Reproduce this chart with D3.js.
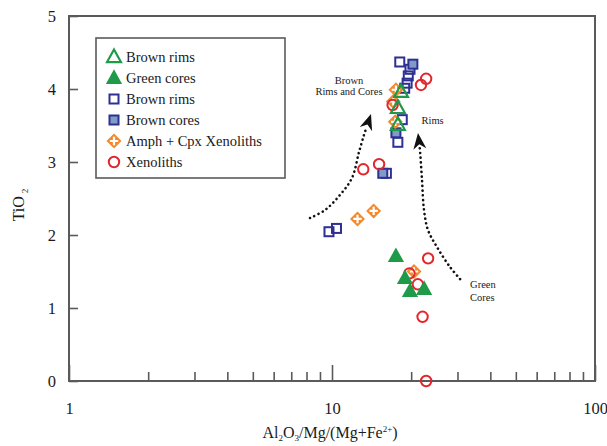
<!DOCTYPE html>
<html><head><meta charset="utf-8">
<script src="https://cdn.jsdelivr.net/npm/d3@7"></script>
<style>body{margin:0;background:#fff}svg{display:block}text{font-family:"Liberation Serif","Times New Roman",serif;fill:#1a1a1a}</style>
</head><body><svg id="c" width="607" height="446"></svg>
<script>
// ---- data ----
const brownRimsTri = [[18.3,3.96],[17.8,3.74],[17.8,3.51]];
const greenCoresTri = [[17.5,1.71],[18.95,1.41],[19.8,1.23],[22.4,1.26]];
const brownRimsSq = [[18.1,4.37],[19.8,4.27],[19.5,4.18],[19.3,4.08],[18.9,4.01],[18.5,3.58],[17.8,3.27],[16.1,2.845],[9.74,2.045],[10.4,2.09]];
const brownCoresSq = [[20.3,4.34],[17.5,3.40],[15.6,2.845]];
const amphCpx = [[12.5,2.22],[14.4,2.33],[17.1,3.83],[17.4,3.55],[17.5,3.99],[20.5,1.50]];
const xenoliths = [[22.8,4.14],[21.8,4.055],[17.0,3.78],[13.15,2.90],[15.1,2.97],[23.2,1.68],[19.7,1.475],[21.2,1.325],[22.1,0.88],[22.8,0.0]];
const yTicks = [0,1,2,3,4,5];
const xLabels = [1,10,100];
const legendLabels = ["Brown rims","Green cores","Brown rims","Brown cores","Amph + Cpx Xenoliths","Xenoliths"];
const arrowLeft = [[8.25,2.233],[9.41,2.342],[10.72,2.548],[11.91,2.781],[12.67,3.137],[13.23,3.37],[14.07,3.658]];
const arrowRight = [[30.7,1.397],[28.1,1.562],[25.07,1.836],[23.17,2.068],[22.38,2.342],[21.99,2.753],[21.6,3.164],[21.23,3.397]];

const C = {green:"#1f9a48", navy:"#2e3092", fillBlue:"#7f9cc6", orange:"#f3892a", red:"#e2262b", axis:"#5a5a5a"};

const svg = d3.select("#c");
const x = d3.scaleLog().domain([1,100]).range([69,595]);
const y = d3.scaleLinear().domain([0,5]).range([381,16]);

// minor tick values
const xTickVals = [];
for (let d of [1,10]) for (let k=1;k<=9;k++) xTickVals.push(d*k);
xTickVals.push(100);

const gx = svg.append("g").attr("transform","translate(0,381)")
  .call(d3.axisBottom(x).tickValues(xTickVals).tickSizeInner(-9).tickSizeOuter(0).tickPadding(21)
    .tickFormat(d => xLabels.includes(d) ? String(d) : ""));
gx.select(".domain").remove();
gx.selectAll(".tick line").attr("stroke",C.axis).attr("stroke-width",1.6)
  .attr("y2", d => xLabels.includes(d) ? -16 : -9);
gx.selectAll(".tick text").attr("font-size",16.5).attr("fill","#1a1a1a").style("font-family",'"Liberation Serif",serif');

const gy = svg.append("g").attr("transform","translate(69,0)")
  .call(d3.axisLeft(y).tickValues(yTicks).tickSizeInner(-9).tickSizeOuter(0).tickPadding(13).tickFormat(d3.format("d")));
gy.select(".domain").remove();
gy.selectAll(".tick line").attr("stroke",C.axis).attr("stroke-width",1.6);
gy.selectAll(".tick text").attr("font-size",16.5).attr("fill","#1a1a1a").style("font-family",'"Liberation Serif",serif');

// frame
svg.append("rect").attr("x",x(1)).attr("y",y(5)).attr("width",x(100)-x(1)).attr("height",y(0)-y(5))
  .attr("fill","none").attr("stroke",C.axis).attr("stroke-width",2);

// axis titles
const yt = svg.append("text").attr("transform","translate(24,205) rotate(-90)").attr("text-anchor","middle").attr("font-size",16);
yt.append("tspan").text("TiO");
yt.append("tspan").attr("dx",3).attr("dy",4).attr("font-size",9).text("2");

const xt = svg.append("text").attr("x",330).attr("y",438).attr("text-anchor","middle").attr("font-size",16);
xt.append("tspan").text("Al");
xt.append("tspan").attr("dy",3).attr("font-size",9).text("2");
xt.append("tspan").attr("dy",-3).text("O");
xt.append("tspan").attr("dy",3).attr("font-size",9).text("3");
xt.append("tspan").attr("dy",-3).text("/Mg/(Mg+Fe");
xt.append("tspan").attr("dy",-6).attr("font-size",9).text("2+");
xt.append("tspan").attr("dy",6).text(")");

// arrows
function drawArrow(pts){
  const p = pts.map(d => [x(d[0]), y(d[1])]);
  const tip = p[p.length-1], prev = p[p.length-2];
  const ang = Math.atan2(tip[1]-prev[1], tip[0]-prev[0]);
  const L = 16, W = 6.5;
  const base = [tip[0]-Math.cos(ang)*L*0.85, tip[1]-Math.sin(ang)*L*0.85];
  const line = p.slice(0,-1).concat([base]);
  svg.append("path").attr("d", d3.line().curve(d3.curveCatmullRom)(line))
    .attr("fill","none").attr("stroke","#111").attr("stroke-width",2.6)
    .attr("stroke-dasharray","0.1,4.6").attr("stroke-linecap","round");
  const ca = Math.cos(ang), sa = Math.sin(ang);
  const bx = tip[0]-ca*L, by = tip[1]-sa*L;
  const nx = tip[0]-ca*L*0.7, ny = tip[1]-sa*L*0.7;
  svg.append("path").attr("d", `M${tip[0]},${tip[1]} L${bx - sa*W},${by + ca*W} L${nx},${ny} L${bx + sa*W},${by - ca*W} Z`).attr("fill","#111");
}
drawArrow(arrowLeft);
drawArrow(arrowRight);

// annotation labels
const ann = svg.append("g").attr("font-size",10.5);
ann.append("text").attr("x",x(11.6)).attr("y",y(4.07)).attr("text-anchor","middle").text("Brown");
ann.append("text").attr("x",x(11.6)).attr("y",y(3.92)).attr("text-anchor","middle").text("Rims and Cores");
ann.append("text").attr("x",x(21.9)).attr("y",y(3.52)).text("Rims");
ann.append("text").attr("x",x(33.5)).attr("y",y(1.27)).text("Green");
ann.append("text").attr("x",x(33.5)).attr("y",y(1.10)).text("Cores");

// marker drawers
const triPath = s => `M0,${-s*0.62} L${s*0.58},${s*0.42} L${-s*0.58},${s*0.42} Z`;
function marker(g, type){
  if (type==="triOpen") g.append("path").attr("d",triPath(12)).attr("fill","none").attr("stroke",C.green).attr("stroke-width",2.2);
  else if (type==="triFill") g.append("path").attr("d",triPath(14)).attr("fill",C.green);
  else if (type==="sqOpen") g.append("rect").attr("x",-4.5).attr("y",-4.5).attr("width",9).attr("height",9).attr("fill","none").attr("stroke",C.navy).attr("stroke-width",2);
  else if (type==="sqFill") g.append("rect").attr("x",-4.5).attr("y",-4.5).attr("width",9).attr("height",9).attr("fill",C.fillBlue).attr("stroke",C.navy).attr("stroke-width",2);
  else if (type==="diamond") {
    g.append("path").attr("d","M0,-7.5 L7.5,0 L0,7.5 L-7.5,0 Z").attr("fill",C.orange);
    g.append("path").attr("d","M0,-4.2 V4.2 M-4.2,0 H4.2").attr("stroke","#fff").attr("stroke-width",2.2);
  }
  else if (type==="circle") g.append("circle").attr("r",5.2).attr("fill","none").attr("stroke",C.red).attr("stroke-width",2);
}
function series(data, type){
  svg.append("g").selectAll("g").data(data).join("g")
    .attr("transform", d => `translate(${x(d[0])},${y(d[1])})`)
    .each(function(){ marker(d3.select(this), type); });
}
series(brownRimsSq,"sqOpen");
series(brownCoresSq,"sqFill");
series(amphCpx,"diamond");
series(xenoliths,"circle");
series(greenCoresTri,"triFill");
series(brownRimsTri,"triOpen");

// legend
const lg = svg.append("g");
lg.append("rect").attr("x",96).attr("y",38).attr("width",189).attr("height",140).attr("fill","#fff").attr("stroke",C.axis).attr("stroke-width",1.6);
const types = ["triOpen","triFill","sqOpen","sqFill","diamond","circle"];
legendLabels.forEach((t,i) => {
  const yy = 57 + i*21;
  const m = lg.append("g").attr("transform",`translate(114,${yy})`);
  marker(m, types[i]);
  lg.append("text").attr("x",126).attr("y",yy+5).attr("font-size",14.5).text(t);
});
</script></body></html>
